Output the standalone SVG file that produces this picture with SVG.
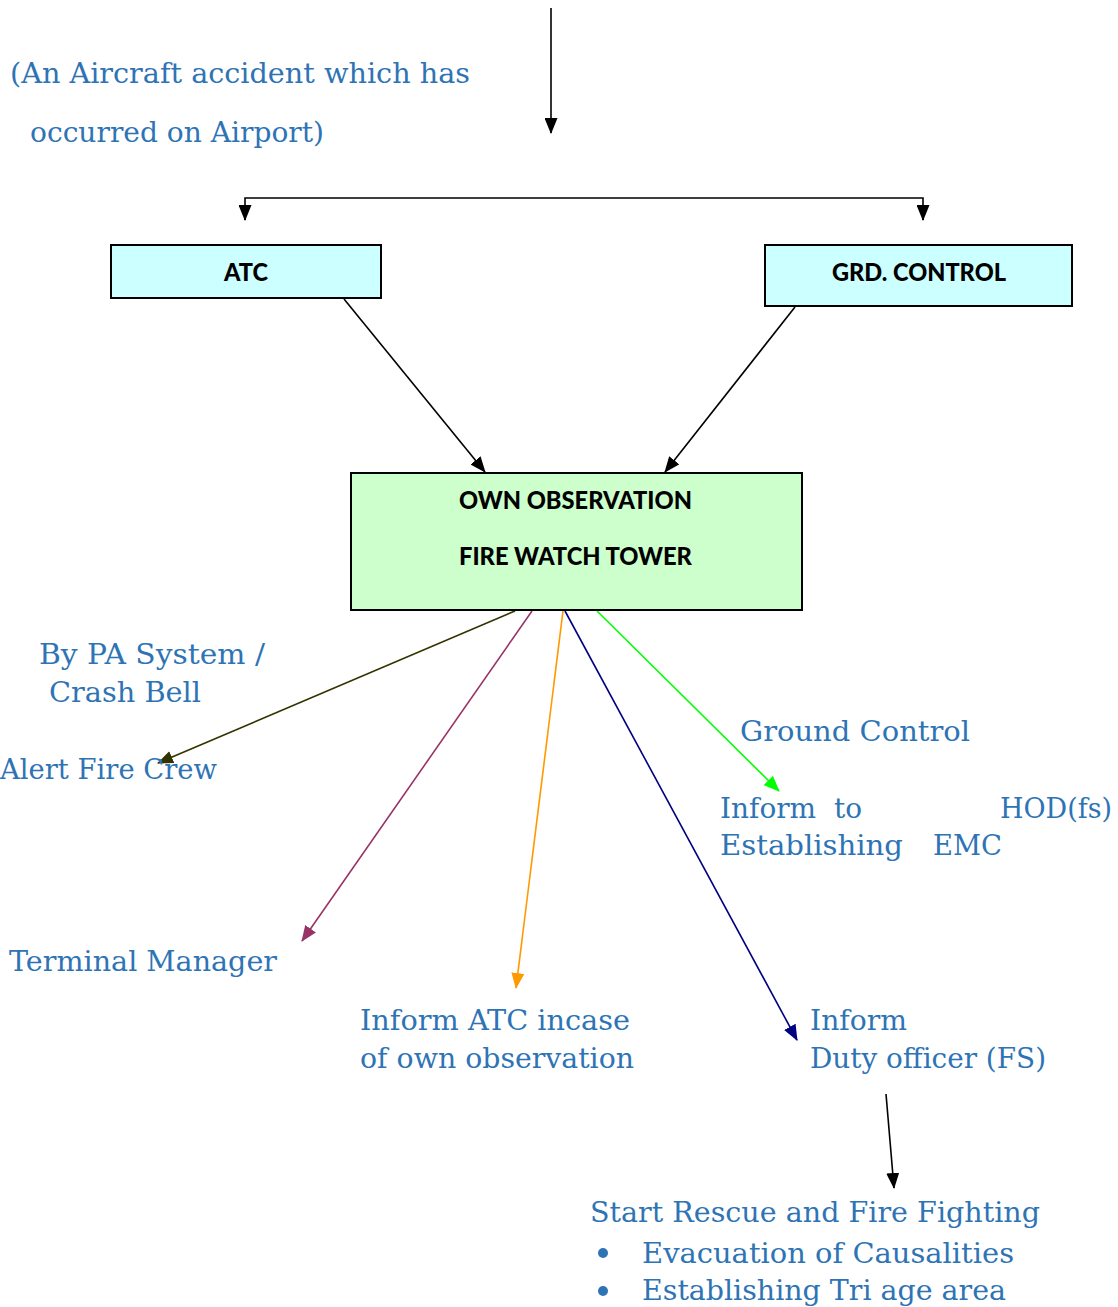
<svg xmlns="http://www.w3.org/2000/svg" width="1118" height="1307" viewBox="0 0 1118 1307">
<style>
.t{font-family:"DejaVu Serif","Liberation Serif",serif;font-size:27.5px;fill:#2E74B5}
.b{font-family:Lato,"Open Sans",sans-serif;font-weight:900;font-size:24px;fill:#000}
.c{fill:none;stroke-width:1.6}
</style>
<defs>
<marker id="mk" markerWidth="16" markerHeight="13" refX="15" refY="6.5" orient="auto" markerUnits="userSpaceOnUse"><path d="M0,0L16,6.5L0,13z" fill="#000"/></marker>
<marker id="mo" markerWidth="16" markerHeight="13" refX="15" refY="6.5" orient="auto" markerUnits="userSpaceOnUse"><path d="M0,0L16,6.5L0,13z" fill="#333300"/></marker>
<marker id="mm" markerWidth="16" markerHeight="13" refX="15" refY="6.5" orient="auto" markerUnits="userSpaceOnUse"><path d="M0,0L16,6.5L0,13z" fill="#993366"/></marker>
<marker id="mr" markerWidth="16" markerHeight="13" refX="15" refY="6.5" orient="auto" markerUnits="userSpaceOnUse"><path d="M0,0L16,6.5L0,13z" fill="#FF9900"/></marker>
<marker id="mn" markerWidth="16" markerHeight="13" refX="15" refY="6.5" orient="auto" markerUnits="userSpaceOnUse"><path d="M0,0L16,6.5L0,13z" fill="#000080"/></marker>
<marker id="mg" markerWidth="16" markerHeight="13" refX="15" refY="6.5" orient="auto" markerUnits="userSpaceOnUse"><path d="M0,0L16,6.5L0,13z" fill="#00FF00"/></marker>
</defs>
<rect width="1118" height="1307" fill="#fff"/>
<g id="connectors">
<line class="c" x1="551" y1="8" x2="551" y2="133" stroke="#000" marker-end="url(#mk)"/>
<polyline class="c" points="245,220 245,198 923,198 923,220" stroke="#000"/>
<line class="c" x1="245" y1="205" x2="245" y2="220" stroke="#000" marker-end="url(#mk)"/>
<line class="c" x1="923" y1="205" x2="923" y2="220" stroke="#000" marker-end="url(#mk)"/>
<line class="c" x1="344" y1="299" x2="485" y2="472" stroke="#000" marker-end="url(#mk)"/>
<line class="c" x1="795" y1="307" x2="665" y2="472" stroke="#000" marker-end="url(#mk)"/>
<line class="c" x1="515" y1="611" x2="158" y2="763" stroke="#333300" marker-end="url(#mo)"/>
<line class="c" x1="532" y1="611" x2="302" y2="941" stroke="#993366" marker-end="url(#mm)"/>
<line class="c" x1="563" y1="611" x2="516" y2="988" stroke="#FF9900" marker-end="url(#mr)"/>
<line class="c" x1="565" y1="611" x2="797" y2="1040" stroke="#000080" marker-end="url(#mn)"/>
<line class="c" x1="597" y1="611" x2="779" y2="791" stroke="#00FF00" marker-end="url(#mg)"/>
<line class="c" x1="886" y1="1094" x2="894" y2="1188" stroke="#000" marker-end="url(#mk)"/>
</g>
<g id="accident">
<text class="t" x="10" y="83" textLength="460" lengthAdjust="spacingAndGlyphs">(An Aircraft accident which has</text>
<text class="t" x="30" y="142" textLength="294" lengthAdjust="spacingAndGlyphs">occurred on Airport)</text>
</g>
<g id="atc">
<rect x="111" y="245" width="270" height="53" fill="#CCFFFF" stroke="#000" stroke-width="2"/>
<text class="b" x="224" y="281" textLength="44" lengthAdjust="spacingAndGlyphs">ATC</text>
</g>
<g id="grd">
<rect x="765" y="245" width="307" height="61" fill="#CCFFFF" stroke="#000" stroke-width="2"/>
<text class="b" x="832" y="281" textLength="174" lengthAdjust="spacingAndGlyphs">GRD. CONTROL</text>
</g>
<g id="tower">
<rect x="351" y="473" width="451" height="137" fill="#CCFFCC" stroke="#000" stroke-width="2"/>
<text class="b" x="459" y="509" textLength="233" lengthAdjust="spacingAndGlyphs">OWN OBSERVATION</text>
<text class="b" x="459" y="565" textLength="233" lengthAdjust="spacingAndGlyphs">FIRE WATCH TOWER</text>
</g>
<g id="pa">
<text class="t" x="39" y="664" textLength="226" lengthAdjust="spacingAndGlyphs">By PA System /</text>
<text class="t" x="49" y="702" textLength="152" lengthAdjust="spacingAndGlyphs">Crash Bell</text>
</g>
<g id="alert"><text class="t" x="0" y="779" textLength="217" lengthAdjust="spacingAndGlyphs">Alert Fire Crew</text></g>
<g id="ground">
<text class="t" x="740" y="741" textLength="230" lengthAdjust="spacingAndGlyphs">Ground Control</text>
<text class="t" x="720" y="818" textLength="142" lengthAdjust="spacingAndGlyphs" xml:space="preserve">Inform  to</text>
<text class="t" x="1000" y="818" textLength="112" lengthAdjust="spacingAndGlyphs">HOD(fs)</text>
<text class="t" x="720" y="855" textLength="183" lengthAdjust="spacingAndGlyphs">Establishing</text>
<text class="t" x="933" y="855" textLength="69" lengthAdjust="spacingAndGlyphs">EMC</text>
</g>
<g id="terminal"><text class="t" x="9" y="971" textLength="268" lengthAdjust="spacingAndGlyphs">Terminal Manager</text></g>
<g id="informatc">
<text class="t" x="360" y="1030" textLength="270" lengthAdjust="spacingAndGlyphs">Inform ATC incase</text>
<text class="t" x="360" y="1068" textLength="274" lengthAdjust="spacingAndGlyphs">of own observation</text>
</g>
<g id="duty">
<text class="t" x="810" y="1030" textLength="97" lengthAdjust="spacingAndGlyphs">Inform</text>
<text class="t" x="810" y="1068" textLength="236" lengthAdjust="spacingAndGlyphs">Duty officer (FS)</text>
</g>
<g id="rescue">
<text class="t" x="590" y="1222" textLength="450" lengthAdjust="spacingAndGlyphs">Start Rescue and Fire Fighting</text>
<circle cx="603" cy="1253" r="5" fill="#2E74B5"/>
<text class="t" x="642" y="1263" textLength="372" lengthAdjust="spacingAndGlyphs">Evacuation of Causalities</text>
<circle cx="603" cy="1291" r="5" fill="#2E74B5"/>
<text class="t" x="642" y="1300" textLength="364" lengthAdjust="spacingAndGlyphs">Establishing Tri age area</text>
</g>
</svg>
